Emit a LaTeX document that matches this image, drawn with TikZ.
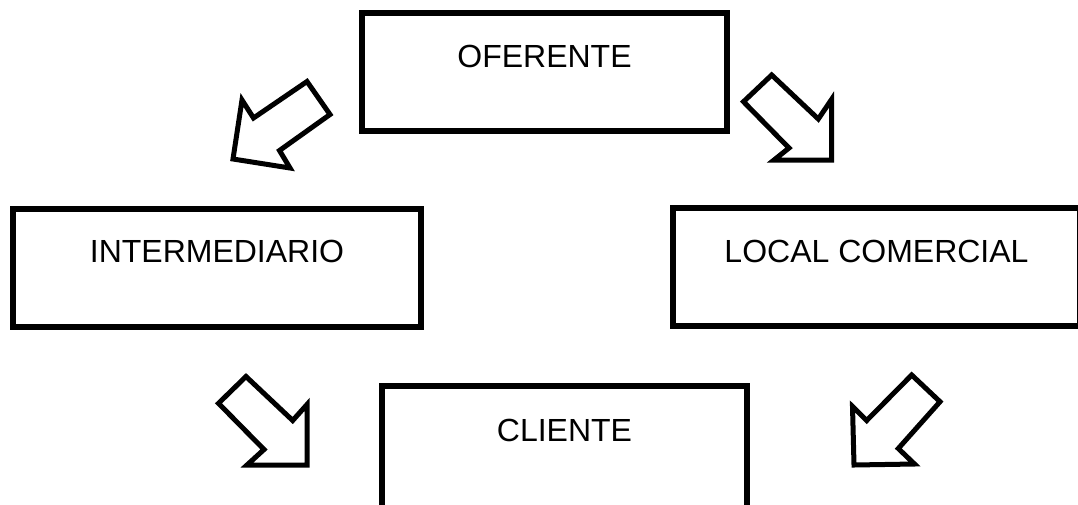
\documentclass[tikz,border=0pt]{standalone}
\usepackage{fontspec}
\setmainfont{Liberation Sans}
\begin{document}
\begin{tikzpicture}[x=1pt,y=-1pt,
  box/.style={draw=black,line width=6pt,fill=white,minimum width=#1,minimum height=118pt,inner sep=0pt,outer sep=0pt},
  box/.default=365pt,
  lbl/.style={inner sep=0pt,font=\fontsize{32}{38}\selectfont},
  blockarrow/.style={draw=black,line width=5pt,line join=miter,fill=white}]
\useasboundingbox (0,0) rectangle (1078,504);
% boxes
\node[box] (of) at (544.5,72) {};
\node[lbl] (oft) at (544.5,56.5) {OFERENTE};
\node[box=408pt] (in) at (217,267.5) {};
\node[lbl] (int) at (217,251.5) {INTERMEDIARIO};
\node[box=407pt] (lc) at (876.5,266.5) {};
\node[lbl] (lct) at (876.5,251.5) {LOCAL COMERCIAL};
\node[box,minimum height=134pt] (cl) at (564.5,452.5) {};
\node[lbl] (clt) at (564.5,430) {CLIENTE};
% block arrows
\draw[blockarrow] (233,159) -- (242,100) -- (253.5,118) -- (307,81.5) -- (330,114.5)
  -- (279.5,150.5) -- (290,168) -- cycle;
\draw[blockarrow] (831.5,160) -- (831.5,99.5) -- (818.3,119) -- (771.7,75) -- (743.5,101.7)
  -- (789,148) -- (774,160) -- cycle;
\draw[blockarrow] (307,465) -- (307,404.5) -- (292.7,420.5) -- (246,376.5) -- (218.5,403.3)
  -- (264,449.5) -- (247,465) -- cycle;
\draw[blockarrow] (854,465) -- (852.5,406.5) -- (866.7,420.5) -- (911.7,375) -- (940,401.7)
  -- (898.3,448.5) -- (914.5,464) -- cycle;
\end{tikzpicture}
\end{document}
